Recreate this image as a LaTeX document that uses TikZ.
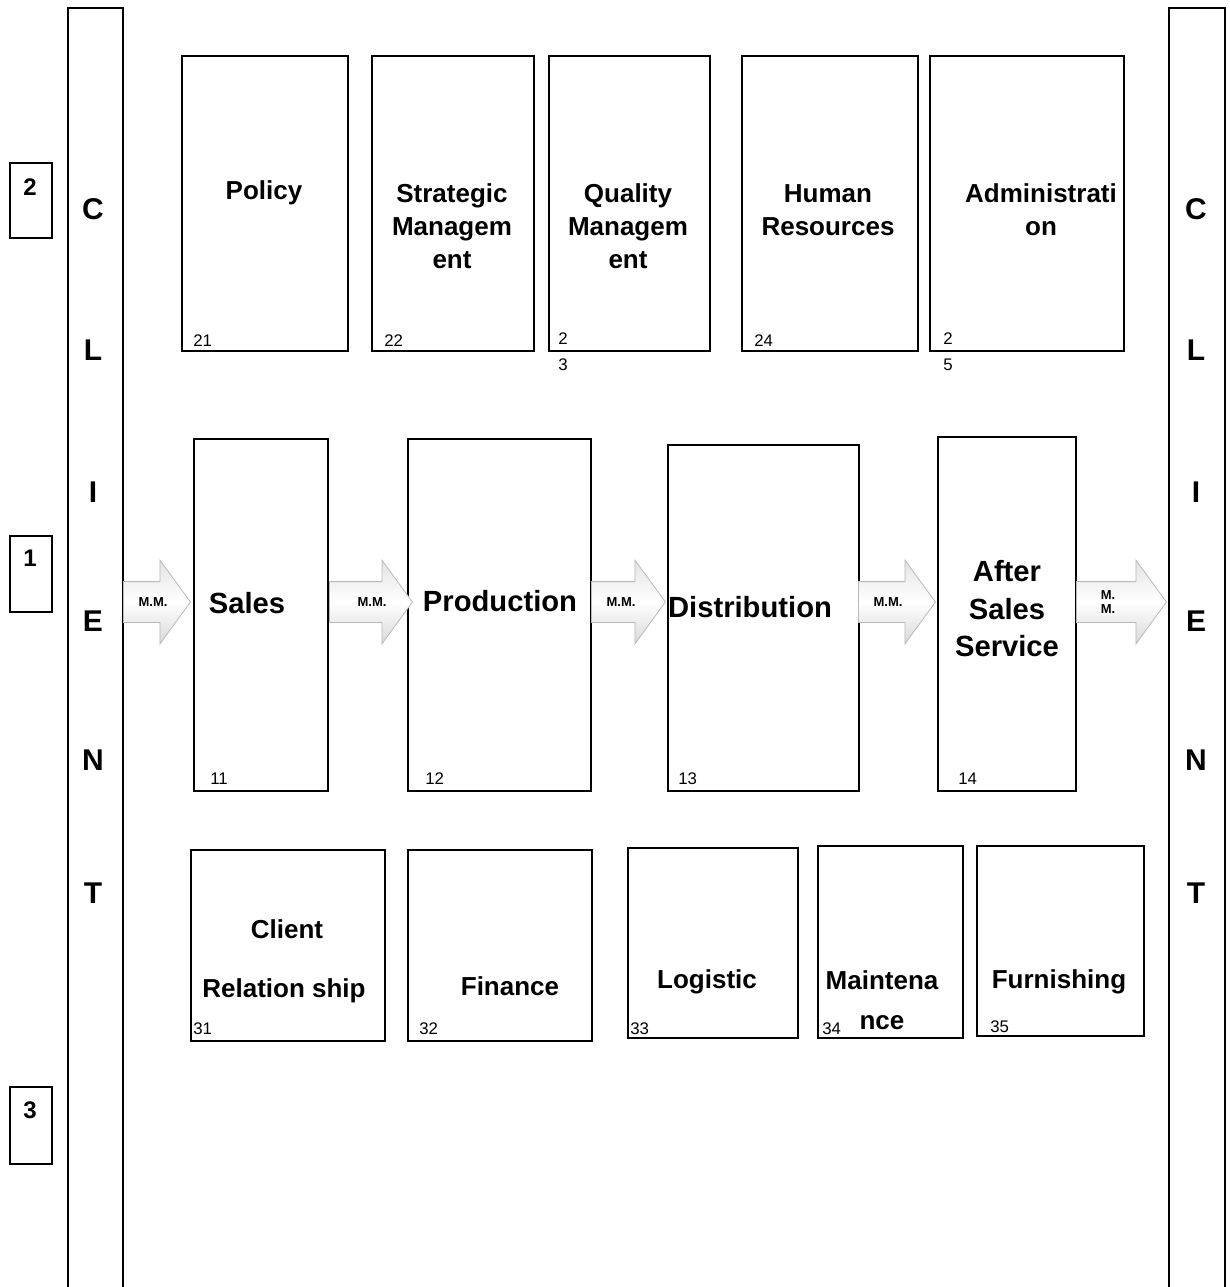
\documentclass[tikz,border=0pt]{standalone}
\usepackage{fontspec}
\setmainfont{Liberation Sans}
\usetikzlibrary{shapes.arrows,calc}

\tikzset{
  unitbox/.style={draw, line width=0.75pt, rectangle, inner sep=0pt, anchor=north west},
  toplbl/.style={font=\fontsize{13}{16.5}\selectfont\bfseries, align=center},
  midlbl/.style={font=\fontsize{14.6}{18.75}\selectfont\bfseries, align=center},
  num/.style={font=\fontsize{8.4}{10}\selectfont, anchor=base west, inner sep=0pt},
  colletter/.style={font=\fontsize{15}{18}\selectfont\bfseries},
  lvlnum/.style={font=\fontsize{12}{14}\selectfont\bfseries},
  blockarrow/.style={single arrow, single arrow head extend=10.75pt, single arrow tip angle=108,
    inner xsep=0pt, inner ysep=10pt, anchor=tail, draw=gray!55, line width=0.4pt,
    top color=gray!22, bottom color=gray!30, middle color=white},
  mm/.style={font=\fontsize{6.5}{7}\selectfont\bfseries, align=center, inner sep=0pt}
}

\begin{document}
\begin{tikzpicture}[x=0.5pt,y=-0.5pt]
\useasboundingbox (0,0) rectangle (1230,1287);

% level boxes
\node[unitbox, minimum width=21pt, minimum height=37.5pt] (lv2) at (9,162) {};
\node[unitbox, minimum width=21pt, minimum height=38pt] (lv1) at (9,535) {};
\node[unitbox, minimum width=21pt, minimum height=38.5pt] (lv3) at (9,1086) {};
\node[lvlnum] (lv2T) at (30,187) {2};
\node[lvlnum] (lv1T) at (30,558) {1};
\node[lvlnum] (lv3T) at (30,1110) {3};

% client columns
\node[unitbox, minimum width=27.5pt, minimum height=650pt] (lcol) at (67,7) {};
\node[unitbox, minimum width=28pt, minimum height=650pt] (rcol) at (1168,7) {};
\foreach \ch/\yy in {C/209, L/350, I/492, E/621, N/760, T/893} {
  \node[colletter] (l\ch) at (93,\yy) {\ch};
  \node[colletter] (r\ch) at (1196,\yy) {\ch};
}

% support processes
\node[unitbox, minimum width=83pt, minimum height=147.5pt] (pol) at (181,55) {};
\node[unitbox, minimum width=81pt, minimum height=147.5pt] (stm) at (371,55) {};
\node[unitbox, minimum width=80.5pt, minimum height=147.5pt] (qum) at (548,55) {};
\node[unitbox, minimum width=88pt, minimum height=147.5pt] (hum) at (741,55) {};
\node[unitbox, minimum width=97pt, minimum height=147.5pt] (adm) at (929,55) {};
\node[toplbl] (polT) at (264,193) {Policy};
\node[toplbl] (stmT) at (452,226) {Strategic\\Managem\\ent};
\node[toplbl] (qumT) at (628,226) {Quality\\Managem\\ent};
\node[toplbl] (humT) at (828,210) {Human\\Resources};
\node[toplbl] (admT) at (1041,210) {Administrati\\on};
\node[num] (polN) at ($(pol.south west)+(12,-5)$) {21};
\node[num] (stmN) at ($(stm.south west)+(13,-5)$) {22};
\node[num] (qumN) at ($(qum.south west)+(10,-7)$) {2};
\node[num] (qumM) at ($(qum.south west)+(10,19)$) {3};
\node[num] (humN) at ($(hum.south west)+(13,-5)$) {24};
\node[num] (admN) at ($(adm.south west)+(14,-7)$) {2};
\node[num] (admM) at ($(adm.south west)+(14,19)$) {5};

% core processes
\node[unitbox, minimum width=67pt, minimum height=176pt] (sal) at (193,438) {};
\node[unitbox, minimum width=91.5pt, minimum height=176pt] (pro) at (407,438) {};
\node[unitbox, minimum width=95.5pt, minimum height=173pt] (dis) at (667,444) {};
\node[unitbox, minimum width=69pt, minimum height=177pt] (aft) at (937,436) {};
\node[midlbl] (salT) at (247,603) {Sales};
\node[midlbl] (proT) at (500,601) {Production};
\node[midlbl] (disT) at (750,607) {Distribution};
\node[midlbl] (aftT) at (1007,609) {After\\Sales\\Service};
\node[num] (salN) at ($(sal.south west)+(17,-7)$) {11};
\node[num] (proN) at ($(pro.south west)+(18,-7)$) {12};
\node[num] (disN) at ($(dis.south west)+(11,-7)$) {13};
\node[num] (aftN) at ($(aft.south west)+(21,-7)$) {14};

% flow arrows
\node[blockarrow, minimum height=33.5pt] (a1) at (123,602) {};
\node[blockarrow, minimum height=41.5pt] (a2) at (329,602) {};
\node[blockarrow, minimum height=37pt] (a3) at (591,602) {};
\node[blockarrow, minimum height=38.5pt] (a4) at (858,602) {};
\node[blockarrow, minimum height=45pt] (a5) at (1076,602) {};
\node[mm] (a1T) at (153,602) {M.M.};
\node[mm] (a2T) at (372,602) {M.M.};
\node[mm] (a3T) at (621,602) {M.M.};
\node[mm] (a4T) at (888,602) {M.M.};
\node[mm] (a5T) at (1108,602) {M.\\M.};

% resource processes
\node[unitbox, minimum width=97pt, minimum height=95.5pt] (cli) at (190,849) {};
\node[unitbox, minimum width=92pt, minimum height=95.5pt] (fin) at (407,849) {};
\node[unitbox, minimum width=85pt, minimum height=95pt] (log) at (627,847) {};
\node[unitbox, minimum width=72.5pt, minimum height=96pt] (mai) at (817,845) {};
\node[unitbox, minimum width=83.5pt, minimum height=95pt] (fur) at (976,845) {};
\node[toplbl] (cliT) at (287,929) {Client};
\node[toplbl] (cliU) at (284,991) {Relation ship};
\node[toplbl] (finT) at (510,986) {Finance};
\node[toplbl] (logT) at (707,982) {Logistic};
\node[toplbl, font=\fontsize{13}{20}\selectfont\bfseries] (maiT) at (882,1000) {Maintena\\nce};
\node[toplbl] (furT) at (1059,982) {Furnishing};
\node[num] (cliN) at ($(cli.south west)+(3,-7)$) {31};
\node[num] (finN) at ($(fin.south west)+(12,-7)$) {32};
\node[num] (logN) at ($(log.south west)+(3,-4)$) {33};
\node[num] (maiN) at ($(mai.south west)+(5,-4)$) {34};
\node[num] (furN) at ($(fur.south west)+(14,-4)$) {35};
\end{tikzpicture}
\end{document}
